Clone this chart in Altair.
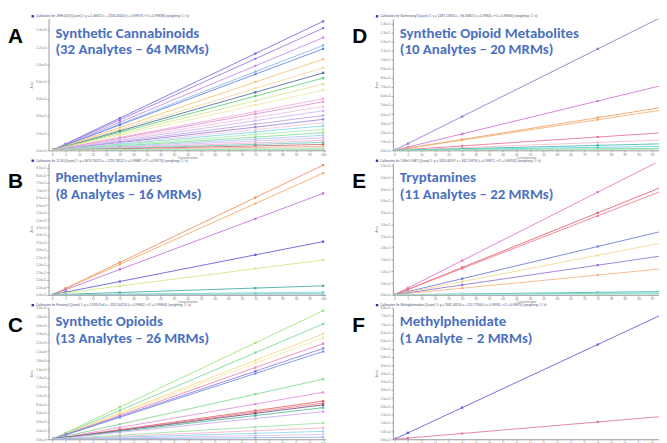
import altair as alt
import pandas as pd

# ---------------- data ----------------
CONC = [0.5, 5, 25, 75, 100]          # calibration levels (x)

LETTERS = ["A", "B", "C", "D", "E", "F"]
TITLE_1 = ["Synthetic Cannabinoids", "Phenethylamines", "Synthetic Opioids",
           "Synthetic Opioid Metabolites", "Tryptamines", "Methylphenidate"]
TITLE_2 = ["(32 Analytes \u2013 64 MRMs)", "(8 Analytes \u2013 16 MRMs)",
           "(13 Analytes \u2013 26 MRMs)", "(10 Analytes \u2013 20 MRMs)",
           "(11 Analytes \u2013 22 MRMs)", "(1 Analyte \u2013 2 MRMs)"]
HEADERS = [
    "Calibration for JWH-018 (Quant) 1: y = 1.46872 x + 2358.02054 (r = 0.99919, r^2 = 0.99838) (weighting: 1 / x)",
    "Calibration for 2C-B (Quant) 1: y = 8674.76521 x + 1253.78112 (r = 0.99887, r^2 = 0.99774) (weighting: 1 / x)",
    "Calibration for Fentanyl (Quant) 1: y = 2.93107e4 x + 3311.50226 (r = 0.99902, r^2 = 0.99804) (weighting: 1 / x)",
    "Calibration for Norfentanyl (Quant) 1: y = 1487.12903 x + 96.30811 (r = 0.99845, r^2 = 0.99690) (weighting: 1 / x)",
    "Calibration for 5-MeO-DMT (Quant) 1: y = 5820.44197 x + 842.19376 (r = 0.99871, r^2 = 0.99742) (weighting: 1 / x)",
    "Calibration for Methylphenidate (Quant) 1: y = 7682.30516 x + 512.77904 (r = 0.99935, r^2 = 0.99870) (weighting: 1 / x)",
]

# response at the 100 level for every curve of each panel
A_END = [1.50e6, 1.42e6, 1.31e6, 1.22e6, 1.18e6, 1.06e6, 9.6e5, 9.0e5, 8.4e5, 7.7e5,
         7.0e5, 6.0e5, 5.65e5, 5.1e5, 4.6e5, 4.05e5, 3.6e5, 3.2e5, 2.85e5, 2.45e5,
         2.05e5, 1.75e5, 1.45e5, 1.15e5, 9.2e4, 6.9e4, 4.6e4, 3.1e4, 1.8e4, 9.0e3]
A_COL = ["#6b6bdc", "#9b72e0", "#c68ae6", "#86b4f0", "#5f7fe0", "#f2c46e", "#f5d79a",
         "#4c6b9c", "#5ccf7a", "#d6e68a", "#efe7a8", "#f2a8d2", "#de8fd0", "#f4c0dc",
         "#cbb8f2", "#b9a0ea", "#9a7fd8", "#f6c8e0", "#7fd8e6", "#a8eab0", "#86dc8e",
         "#a8c8f4", "#d8b8ee", "#f0b0c8", "#6cc8c0", "#c07060", "#f3a0b0", "#f0e090",
         "#90e0e8", "#a0e0a0"]

B_END = [8.67e5, 8.14e5, 6.78e5, 3.56e5, 2.33e5, 6.0e4, 1.8e4, 8.8e3, 4.4e3]
B_COL = ["#f08a60", "#f4a860", "#c070d8", "#5a5ad8", "#cce880", "#40a8a0", "#70d8e0",
         "#90d8a0", "#a0c0f0"]

C_END = [2.93e6, 2.63e6, 2.40e6, 2.31e6, 2.18e6, 2.07e6, 2.00e6, 1.37e6, 1.07e6, 8.7e5,
         8.25e5, 7.85e5, 7.2e5, 6.3e5, 3.7e5, 2.6e5, 1.8e5, 1.1e5, 4.5e4]
C_COL = ["#9ce27a", "#74d896", "#f2dc80", "#f6e8a8", "#f080b0", "#8a7ae0", "#6a8ae8",
         "#80d890", "#e090d8", "#e06060", "#f07888", "#705080", "#50b890", "#c8a8f0",
         "#a0e0a0", "#f4b0c8", "#8ad8e8", "#d8c0f0", "#90b0f0"]

D_END = [1.49e5, 7.25e4, 4.8e4, 4.5e4, 1.96e4, 1.16e4, 7.3e3, 4.4e3, 2.2e3, 1.2e3]
D_COL = ["#9a6fd8", "#d070d0", "#f0a060", "#f4b070", "#e87090", "#f4b8c8", "#40b8b0",
         "#60d0e0", "#70d090", "#b0eac0"]

E_END = [5.82e5, 4.65e5, 4.48e5, 2.74e5, 2.24e5, 1.68e5, 1.12e5, 1.4e4, 8.4e3, 5.6e3, 2.8e3]
E_COL = ["#e070c8", "#e85a6a", "#f07890", "#6a78d8", "#f2d890", "#9070d0", "#f4b080",
         "#40b8a8", "#70d8e0", "#80d8a0", "#c0e8f0"]

F_END = [7.68e5, 1.40e5]
F_COL = ["#5a5ad0", "#e070a0"]

PANEL_END = [A_END, B_END, C_END, D_END, E_END, F_END]
PANEL_COL = [A_COL, B_COL, C_COL, D_COL, E_COL, F_COL]
Y_MAX = [1.53e6, 8.8e5, 3.0e6, 1.45e5, 5.6e5, 8.0e5]
Y_STEP = [2e5, 5e4, 2e5, 1e4, 5e4, 5e4]

TITLE_BLUE = "#4a70c0"
PH = 133
TINY = 3.2


def panel(i, width, xdom):
    rows = []
    ids = []
    for j, end in enumerate(PANEL_END[i]):
        lid = f"{LETTERS[i]}{j:02d}"
        ids.append(lid)
        for c in CONC:
            rows.append({"conc": c, "resp": end * c / 100.0, "id": lid})
    df = pd.DataFrame(rows)
    n_ticks = int(round(Y_MAX[i] / Y_STEP[i]))
    yvals = [k * Y_STEP[i] for k in range(n_ticks + 1) if k * Y_STEP[i] <= Y_MAX[i]]

    x = alt.X("conc:Q", scale=alt.Scale(domain=xdom, nice=False, zero=False),
              axis=alt.Axis(values=list(range(0, 101, 5)), labelFontSize=TINY,
                            labelColor="#777", tickSize=1.5, tickColor="#aaa",
                            domainColor="#999", grid=False, labelPadding=0.5,
                            title="Concentration", titleFontSize=TINY,
                            titleFontWeight="normal", titleColor="#777",
                            titlePadding=0))
    y = alt.Y("resp:Q", scale=alt.Scale(domain=[0, Y_MAX[i]], nice=False),
              axis=alt.Axis(values=yvals, format=".1e", labelFontSize=TINY,
                            labelColor="#777", tickSize=2, tickColor="#aaa",
                            domainColor="#999", grid=False, labelPadding=1,
                            title="Area", titleFontSize=TINY, titleFontWeight="normal",
                            titleColor="#777", titlePadding=2))
    color = alt.Color("id:N", scale=alt.Scale(domain=ids, range=PANEL_COL[i]), legend=None)

    lines = alt.Chart(df).mark_line(strokeWidth=1, opacity=0.85, clip=True).encode(
        x=x, y=y, color=color)
    pts = alt.Chart(df).mark_square(size=5, opacity=1, clip=True).encode(
        x=x, y=y, color=color)

    tdf = pd.DataFrame({"h": [HEADERS[i]], "l": [LETTERS[i]],
                        "t1": [TITLE_1[i]], "t2": [TITLE_2[i]]})
    header = alt.Chart(tdf).mark_text(align="left", baseline="middle", fontSize=TINY,
                                      color="#4a5070", font="Liberation Sans").encode(
        text="h:N", x=alt.value(-13), y=alt.value(-2.5))
    marker = alt.Chart(tdf).mark_square(size=6, color="#2a3aa0", opacity=1).encode(
        x=alt.value(-16), y=alt.value(-2.5))
    letter = alt.Chart(tdf).mark_text(align="left", baseline="alphabetic", fontSize=21,
                                      fontWeight="bold", font="Liberation Sans",
                                      color="#000000").encode(
        text="l:N", x=alt.value(-41), y=alt.value(25))
    t1 = alt.Chart(tdf).mark_text(align="left", baseline="alphabetic", fontSize=15,
                                  fontWeight="bold", font="Carlito, Lato, sans-serif",
                                  color=TITLE_BLUE).encode(
        text="t1:N", x=alt.value(7), y=alt.value(19))
    t2 = alt.Chart(tdf).mark_text(align="left", baseline="alphabetic", fontSize=15,
                                  fontWeight="bold", font="Carlito, Lato, sans-serif",
                                  color=TITLE_BLUE).encode(
        text="t2:N", x=alt.value(7), y=alt.value(36))
    return alt.layer(lines, pts, header, marker, letter, t1, t2).properties(
        width=width, height=PH)


LEFT_W, LEFT_DOM = 280, [-1.3, 100.9]
RIGHT_W, RIGHT_DOM = 269, [-0.55, 97.6]

cells = [panel(0, LEFT_W, LEFT_DOM), panel(3, RIGHT_W, RIGHT_DOM),
         panel(1, LEFT_W, LEFT_DOM), panel(4, RIGHT_W, RIGHT_DOM),
         panel(2, LEFT_W, LEFT_DOM), panel(5, RIGHT_W, RIGHT_DOM)]

chart = alt.concat(*cells, columns=2, spacing={"row": 13, "column": 68},
                   bounds="flush").resolve_scale(color="independent").properties(
    padding={"left": 0, "top": 3.5, "right": 0, "bottom": 0},
    background="white").configure_view(stroke=None)

chart.save("out.html", embed_options={"renderer": "svg", "actions": False})
